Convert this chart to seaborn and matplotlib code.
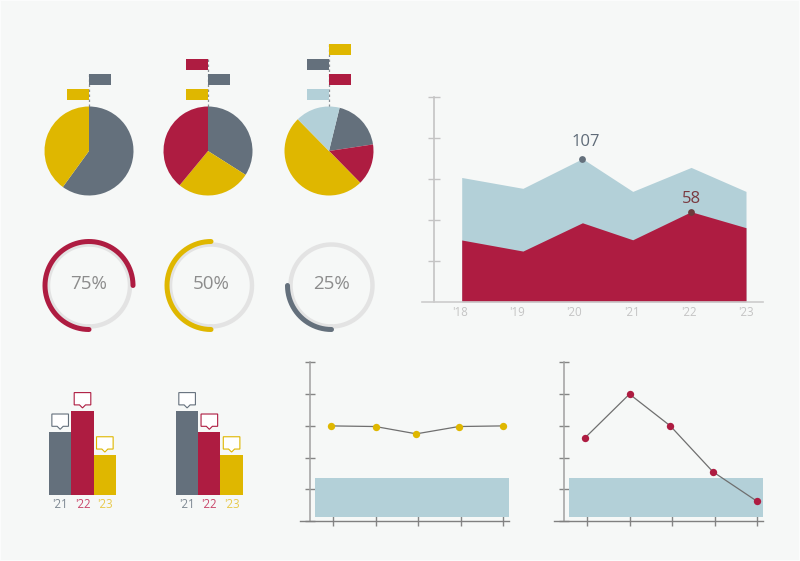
import numpy as np
import matplotlib.pyplot as plt
from matplotlib.patches import Polygon, Rectangle
from matplotlib.transforms import IdentityTransform
import seaborn as sns

GREY = "#64707c"
RED = "#ae1c41"
GOLD = "#dfb700"
BLUE = "#b3d0d8"
BG = "#f6f8f7"

# pies
pie_shares = [[60, 40], [34, 27, 39], [18.8, 15, 50, 16.2]]
pie_colors = [[GREY, GOLD], [GREY, GOLD, RED], [GREY, RED, GOLD, BLUE]]
pie_starts = [90, 90, 76.2]

# flags above the pies, top one first: colour and side of the stem
flag_colors = [[GREY, GOLD], [RED, GREY, GOLD], [GOLD, GREY, RED, BLUE]]
flag_sides = [[1, -1], [-1, 1, -1], [1, -1, 1, -1]]

# rings
ring_values = [75, 50, 25]
ring_colors = [RED, GOLD, GREY]

# area chart
area_years = [2018.03, 2019.10, 2020.14, 2021.02, 2022.04, 2023.0]
area_top = [60.6, 55.3, 69.8, 53.8, 65.5, 53.8]
area_red = [30.1, 24.7, 38.5, 30.2, 43.9, 36.1]
area_ticks = [2018, 2019, 2020, 2021, 2022, 2023]
area_labels = ["'18", "'19", "'20", "'21", "'22", "'23"]
peak_index = [2, 4]
peak_texts = ["107", "58"]
peak_colors = [GREY, "#6e3a3c"]
peak_text_colors = ["#5f6b78", "#7a3a40"]
peak_offsets = [(3, 17), (0, 12.7)]

# bars
bar_labels = ["'21", "'22", "'23"]
bar_values_a = [47, 63, 30]
bar_values_b = [63, 47, 30]
bar_colors = [GREY, RED, GOLD]
bar_label_colors = ["#7d8892", "#c9466a", "#e8c94a"]

# line charts
line_x_a = [0.95, 2, 2.96, 3.96, 5]
line_y_a = [30, 29.8, 27.5, 29.8, 30]
line_x_b = [0.95, 2, 2.96, 3.96, 5]
line_y_b = [26.2, 40, 30, 15.6, 6.3]
band_low, band_high = 1.45, 13.7

sns.set_theme(style="white")
plt.rcParams["font.family"] = ["Open Sans", "DejaVu Sans"]

W, H = 800, 561
fig = plt.figure(figsize=(W / 100, H / 100), dpi=100, facecolor="#fbfcfc")


def px_axes(x0, y0, x1, y1, **kw):
    # axes from pixel box, y measured from the top of the picture
    ax = fig.add_axes([x0 / W, 1 - y1 / H, (x1 - x0) / W, (y1 - y0) / H], **kw)
    ax.patch.set_alpha(0)
    return ax


# overlay for the little flags, in pixels
over = px_axes(0, 0, W, H)
over.set_xlim(0, W)
over.set_ylim(H, 0)
over.axis("off")
# page colour, leaving the thin lighter rim of the picture
fig.add_artist(Rectangle((1 / W, 1 / H), 1 - 2 / W, 1 - 2 / H, transform=fig.transFigure,
                         color=BG, lw=0, zorder=-5))

pie_cx = [89, 208, 329]
pie_cy = 151
pie_r = 44.5
for i in range(3):
    ax = px_axes(pie_cx[i] - pie_r, pie_cy - pie_r, pie_cx[i] + pie_r, pie_cy + pie_r)
    ax.pie(pie_shares[i], colors=pie_colors[i], startangle=pie_starts[i],
           counterclock=False, radius=1, wedgeprops=dict(linewidth=0))
    ax.set_xlim(-1, 1)
    ax.set_ylim(-1, 1)

    n = len(flag_colors[i])
    top = 89 - 14.9 * (n - 1)
    over.plot([pie_cx[i], pie_cx[i]], [top, pie_cy - pie_r], color="#8a8f95", lw=0.9,
              ls=(0, (2, 2)), zorder=1)
    for k in range(n):
        y = top + 14.9 * k
        x = pie_cx[i] if flag_sides[i][k] > 0 else pie_cx[i] - 22
        over.add_patch(Rectangle((x, y), 22, 10.5, color=flag_colors[i][k], lw=0, zorder=2))

# rings
ring_cx = [89, 211, 331.5]
ring_cy = 285.5
for i in range(3):
    ax = px_axes(ring_cx[i] - 50, ring_cy - 50, ring_cx[i] + 50, ring_cy + 50, projection="polar")
    ax.set_theta_zero_location("S")
    ax.set_theta_direction(-1)
    ax.set_ylim(0, 50)
    ax.set_axis_off()
    ax.plot(np.linspace(0, 2 * np.pi, 300), np.full(300, 41), color="#e3e3e3", lw=3.2)
    theta = np.linspace(0, 2 * np.pi * ring_values[i] / 100, 200)
    ax.plot(theta, np.full(200, 44), color=ring_colors[i], lw=3.6, solid_capstyle="round")
    over.text(ring_cx[i], ring_cy - 1.5, f"{ring_values[i]}%", ha="center", va="center",
              fontsize=13.5, color="#8c8c8c")

# area chart
ax = px_axes(422, 96.7, 763.3, 301.7)
ax.set_xlim(2018 + (422 - 460) / 57.2, 2018 + (763.3 - 460) / 57.2)
ax.set_ylim(0, 100)
ax.fill_between(area_years, 0, area_top, color=BLUE, lw=0)
ax.fill_between(area_years, 0, area_red, color=RED, lw=0)
for i, idx in enumerate(peak_index):
    peak_y = area_top[idx] if i == 0 else area_red[idx]
    sns.scatterplot(x=[area_years[idx]], y=[peak_y], ax=ax,
                    color=peak_colors[i], s=24, linewidth=0, zorder=4)
    ax.annotate(peak_texts[i], (area_years[idx], peak_y),
                xytext=(peak_offsets[i][0] * 0.72, peak_offsets[i][1] * 0.72),
                textcoords="offset points", ha="center", va="center", fontsize=12,
                color=peak_text_colors[i])
sns.despine(ax=ax, top=True, right=True)
ax.spines["left"].set_position(("axes", (434.3 - 422) / (763.3 - 422)))
ax.spines["left"].set_color("#c4c4c4")
ax.spines["left"].set_linewidth(1.2)
ax.spines["bottom"].set_color("#cccccc")
ax.spines["bottom"].set_linewidth(1.2)
ax.set_yticks([0, 20, 40, 60, 80, 100])
ax.set_yticklabels([])
ax.set_xticks(area_ticks)
ax.set_xticklabels(area_labels, fontsize=8.3, color="#c4c4c4")
ax.tick_params(axis="y", left=True, length=8.6, width=1, direction="inout", color="#c4c4c4")
ax.tick_params(axis="x", length=0, pad=3)
ax.yaxis.get_major_ticks()[0].tick1line.set_visible(False)


def bubble(ax, bar, color):
    # speech bubble sitting just above a bar
    cx = bar.get_x() + bar.get_width() / 2
    tx, ty = ax.transData.transform((cx, bar.get_height()))
    ty += 2.8
    pts = [(tx, ty), (tx - 3, ty + 3), (tx - 8.3, ty + 3), (tx - 8.3, ty + 15.3),
           (tx + 8.3, ty + 15.3), (tx + 8.3, ty + 3), (tx + 3, ty + 3)]
    ax.add_patch(Polygon(pts, closed=True, transform=IdentityTransform(), fc="white",
                         ec=color, lw=0.8, clip_on=False))


for values, x0, x1 in [(bar_values_a, 49, 116), (bar_values_b, 176, 242.7)]:
    ax = px_axes(x0, 410.7, x1, 495)
    sns.barplot(x=bar_labels, y=values, hue=bar_labels, palette=bar_colors, width=1,
                saturation=1, legend=False, ax=ax, linewidth=0)
    ax.set_xlim(-0.5, 2.5)
    ax.set_ylim(0, 63)
    sns.despine(ax=ax, left=True, bottom=True)
    ax.set_yticks([])
    ax.tick_params(axis="x", length=0, pad=2.5)
    for lab, c in zip(ax.get_xticklabels(), bar_label_colors):
        lab.set_color(c)
        lab.set_fontsize(8.3)
    for bar, c in zip(ax.patches, bar_colors):
        bubble(ax, bar, c)


def line_panel(x0, xs, ys, color):
    # x0 is the pixel of the first x tick
    left, right = x0 - 33, x0 + 176.3
    ax = px_axes(left, 362.3, right, 521.3)
    ax.set_xlim(1 + (left - x0) / 42.5, 1 + (right - x0) / 42.5)
    ax.set_ylim(0, 50)
    ax.axhspan(band_low, band_high, xmin=(x0 - 18 - left) / (right - left), xmax=1,
               color=BLUE, lw=0, zorder=1)
    sns.lineplot(x=xs, y=ys, color="#6f6f6f", lw=0.9, ax=ax, zorder=2)
    sns.scatterplot(x=xs, y=ys, color=color, s=28, linewidth=0, ax=ax, zorder=3, clip_on=False)
    sns.despine(ax=ax)
    ax.spines["left"].set_position(("axes", (x0 - 23 - left) / (right - left)))
    ax.spines["left"].set_color("#a0a0a0")
    ax.spines["left"].set_linewidth(1.1)
    ax.spines["bottom"].set_color("#808080")
    ax.spines["bottom"].set_linewidth(1)
    ax.set_xticks([1, 2, 3, 4, 5])
    ax.set_yticks([0, 10, 20, 30, 40, 50])
    ax.set_xticklabels([])
    ax.set_yticklabels([])
    ax.tick_params(axis="both", bottom=True, left=True, length=7.2, width=1,
                   direction="inout", color="#858585")
    return ax


line_panel(333, line_x_a, line_y_a, GOLD)
line_panel(587, line_x_b, line_y_b, RED)

fig.savefig("out.png", dpi=100, facecolor=fig.get_facecolor())
